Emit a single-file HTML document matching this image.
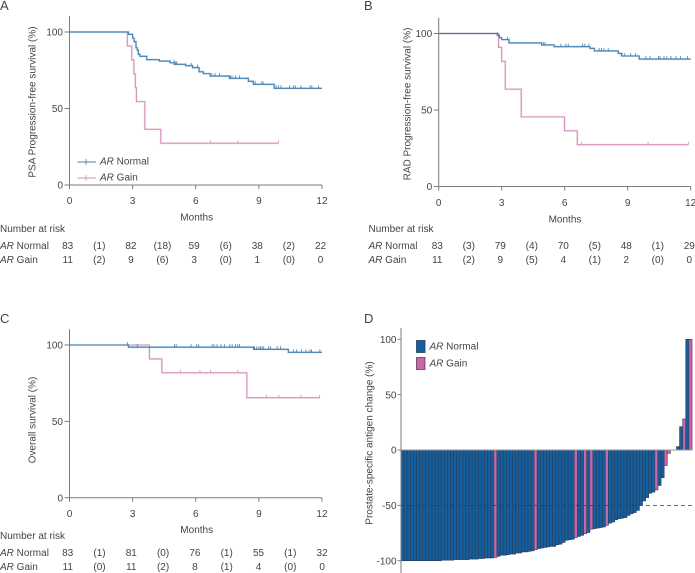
<!DOCTYPE html>
<html lang="en">
<head>
<meta charset="utf-8">
<title>AR status survival charts</title>
<style>
html,body{margin:0;padding:0;background:#fff;}
body{width:695px;height:573px;overflow:hidden;}
svg{display:block;font-family:"Liberation Sans",sans-serif;fill:#444;}
text{font-size:10px;}
</style>
</head>
<body>
<svg id="figure" width="695" height="573" viewBox="0 0 695 573" xmlns="http://www.w3.org/2000/svg">
  <text x="0" y="10" style="font-size:13px">A</text>
  <text x="364" y="10" style="font-size:13px">B</text>
  <text x="0" y="323" style="font-size:13px">C</text>
  <text x="364" y="323" style="font-size:13px">D</text>

  <text transform="translate(35.5,102) rotate(-90)" text-anchor="middle">PSA Progression-free survival (%)</text>
  <text transform="translate(410.5,104) rotate(-90)" text-anchor="middle">RAD Progression-free survival (%)</text>
  <text transform="translate(35.5,420) rotate(-90)" text-anchor="middle">Overall survival (%)</text>
  <text transform="translate(372.5,443) rotate(-90)" text-anchor="middle">Prostate-specific antigen change (%)</text>

  <text x="196.7" y="220.5" text-anchor="middle">Months</text>
  <text x="565" y="222.5" text-anchor="middle">Months</text>
  <text x="196.7" y="533" text-anchor="middle">Months</text>

  <text x="0" y="232">Number at risk</text>
  <text x="368.5" y="232">Number at risk</text>
  <text x="0" y="539">Number at risk</text>

  <text x="0" y="249"><tspan font-style="italic">AR</tspan> Normal</text>
  <text x="0" y="263"><tspan font-style="italic">AR</tspan> Gain</text>
  <text x="368.5" y="249"><tspan font-style="italic">AR</tspan> Normal</text>
  <text x="368.5" y="263"><tspan font-style="italic">AR</tspan> Gain</text>
  <text x="0" y="556"><tspan font-style="italic">AR</tspan> Normal</text>
  <text x="0" y="570"><tspan font-style="italic">AR</tspan> Gain</text>

  <g id="plots"></g>

  <g>
    <line x1="77.5" y1="162" x2="96" y2="162" stroke="#3f7fb2" stroke-width="1.1"/>
    <line x1="86" y1="159" x2="86" y2="165" stroke="#3f7fb2" stroke-width="0.8"/>
    <text x="100" y="164.5"><tspan font-style="italic">AR</tspan> Normal</text>
    <line x1="77.5" y1="178" x2="96" y2="178" stroke="#d792bd" stroke-width="1.1"/>
    <line x1="86" y1="175" x2="86" y2="181" stroke="#d792bd" stroke-width="0.8"/>
    <text x="100" y="180.5"><tspan font-style="italic">AR</tspan> Gain</text>
  </g>

  <g>
    <rect x="416.5" y="340.5" width="8.5" height="12" fill="#155f9e" stroke="#27405f" stroke-width="0.8"/>
    <text x="429.5" y="349.5"><tspan font-style="italic">AR</tspan> Normal</text>
    <rect x="416.5" y="357.5" width="8.5" height="12" fill="#c768a8" stroke="#5a3a60" stroke-width="0.8"/>
    <text x="429.5" y="366.5"><tspan font-style="italic">AR</tspan> Gain</text>
  </g>
</svg>

<script>
// ---- Shared tick labels ----
const monthTicks = [0, 3, 6, 9, 12];
const survivalTicks = [0, 50, 100];
const changeTicks = [-100, -50, 0, 50, 100];

// ---- Panel A: PSA progression-free survival ----
const aNormalTimes = [0, 2.8, 3.0, 3.07, 3.16, 3.22, 3.27, 3.35, 3.67, 4.27, 4.78, 4.98, 5.52, 5.85, 6.16, 6.36, 6.68, 7.6, 8.5, 8.74, 9.73, 11.4, 12];
const aNormalSurvival = [100, 98.5, 96, 93.7, 89.7, 88.2, 85.4, 84.1, 81.9, 81, 79.9, 78.9, 78, 76.7, 74, 72.8, 71.2, 69.7, 67.8, 65.8, 63.2, 63.2, 63.2];
const aNormalCensored = [4.97, 5.05, 5.1, 5.78, 6.08, 6.16, 6.77, 6.92, 7.13, 7.64, 7.72, 7.88, 8.08, 8.75, 8.83, 9.14, 9.2, 9.82, 9.93, 10.05, 10.46, 10.65, 10.73, 11, 11.44, 11.52, 11.84];
const aGainTimes = [0, 2.75, 2.96, 3.06, 3.13, 3.18, 3.58, 4.34, 9.94];
const aGainSurvival = [100, 90.9, 81.8, 72.7, 63.6, 54.5, 36.4, 27.3, 27.3];
const aGainCensored = [6.7, 8, 9.94];
const aRiskNormal = ["83", "(1)", "82", "(18)", "59", "(6)", "38", "(2)", "22"];
const aRiskGain = ["11", "(2)", "9", "(6)", "3", "(0)", "1", "(0)", "0"];

// ---- Panel B: radiographic progression-free survival ----
const bNormalTimes = [0, 2.79, 2.89, 3.0, 3.35, 4.9, 5.5, 7.2, 7.41, 8.55, 8.71, 9.55, 12];
const bNormalSurvival = [100, 98.8, 97.3, 96, 93.8, 92.5, 91.4, 90.3, 88.6, 87, 85.3, 83.3, 83.3];
const bNormalCensored = [2.79, 3.27, 4.98, 5.06, 5.82, 6.06, 6.17, 6.85, 6.96, 7.15, 7.64, 7.75, 7.87, 8.07, 8.73, 8.86, 9.14, 9.38, 9.87, 10.06, 10.46, 10.54, 10.73, 10.86, 11.06, 11.3, 11.52, 11.84];
const bGainTimes = [0, 2.85, 3.0, 3.17, 3.93, 5.99, 6.6, 11.89];
const bGainSurvival = [100, 90.9, 81.8, 63.6, 45.5, 36.4, 27.3, 27.3];
const bGainCensored = [6.8, 9.97, 11.89];
const bRiskNormal = ["83", "(3)", "79", "(4)", "70", "(5)", "48", "(1)", "29"];
const bRiskGain = ["11", "(2)", "9", "(5)", "4", "(1)", "2", "(0)", "0"];

// ---- Panel C: overall survival ----
const cNormalTimes = [0, 2.8, 8.75, 10.4, 12];
const cNormalSurvival = [100, 98.6, 97.2, 95.2, 95.2];
const cNormalCensored = [2.75, 3.22, 4.99, 5.07, 5.78, 6.05, 6.14, 6.78, 6.87, 7.01, 7.2, 7.36, 7.62, 7.73, 7.89, 8.0, 8.08, 8.8, 8.9, 9.0, 9.08, 9.15, 9.23, 9.47, 9.55, 9.87, 10.03, 10.64, 10.8, 11.03, 11.24, 11.43, 11.5, 11.9];
const cGainTimes = [2.75, 3.8, 4.39, 8.43, 11.89];
const cGainSurvival = [100, 90.9, 81.8, 65.5, 65.5];
const cGainCensored = [5.27, 6.2, 6.7, 8, 9.37, 9.95, 11, 11.89];
const cRiskNormal = ["83", "(1)", "81", "(0)", "76", "(1)", "55", "(1)", "32"];
const cRiskGain = ["11", "(0)", "11", "(2)", "8", "(1)", "4", "(0)", "0"];

// ---- Panel D: waterfall of PSA change ----
const psaChange = [-100,-100,-100,-100,-100,-100,-100,-100,-100,-100,-100,-100,-100,-99.5,-99.5,-99.5,-99.5,-99,-99,-99,-99,-99,-98.5,-98.5,-98.5,-98,-98,-97.5,-97.5,-97.5,-97,-96,-95,-95,-94.5,-94,-94,-93,-93,-92,-92,-91.5,-91,-90,-89,-88.5,-88,-87.5,-87,-87,-85.5,-85,-83.5,-81.5,-81,-80.5,-79,-78,-77,-75.5,-74.5,-71.5,-71,-70.5,-70,-69.5,-68,-66,-65,-63,-62,-61.5,-61,-59,-57.5,-56.5,-54.5,-50,-46,-43,-39,-38,-36,-32,-25,-14,-3,0,0,3,21,28,100,100];
const gainPatients = [30, 43, 56, 59, 61, 66, 82, 85, 86, 91, 93];
const responseThreshold = -50;

const NS = 'http://www.w3.org/2000/svg';
const plots = document.getElementById('plots');
const BLUE = '#3f7fb2', PINK = '#d792bd', AXIS = '#7b7b7b';

function make(tag, attrs, parent) {
  const el = document.createElementNS(NS, tag);
  for (const k in attrs) el.setAttribute(k, attrs[k]);
  (parent || plots).appendChild(el);
  return el;
}

function stepValue(times, survival, t) {
  let v = survival[0];
  for (let i = 0; i < times.length; i++) if (times[i] <= t) v = survival[i];
  return v;
}

function drawCurve(group, name, color, times, survival, censored, x, y) {
  let d = 'M' + x(times[0]) + ' ' + y(survival[0]);
  for (let i = 1; i < times.length; i++) {
    d += 'H' + x(times[i]) + 'V' + y(survival[i]);
  }
  const halo = make('path', {d: d, fill: 'none', stroke: color, 'stroke-width': 2.2, 'stroke-opacity': 0.22}, group);
  
  
  const path = make('path', {d: d, fill: 'none', stroke: color, 'stroke-width': 1.1}, group);
  
  
  censored.forEach(function (t) {
    const v = stepValue(times, survival, t);
    const mark = make('line', {x1: x(t), x2: x(t), y1: y(v) - 3, y2: y(v), stroke: color, 'stroke-width': 0.8}, group);
    
    
  });
}

function drawKmAxes(group, prefix, x, y, axisTop, labelY) {
  const yAxis = make('line', {x1: x(0), x2: x(0), y1: axisTop, y2: y(0) + 0.5, stroke: AXIS, 'stroke-width': 1}, group);
  
  
  const xAxis = make('line', {x1: x(0), x2: x(12), y1: y(0), y2: y(0), stroke: AXIS, 'stroke-width': 1}, group);
  
  
  monthTicks.forEach(function (m) {
    const tick = make('line', {x1: x(m), x2: x(m), y1: y(0), y2: y(0) + 4, stroke: AXIS, 'stroke-width': 1}, group);
    
    
    const label = make('text', {x: x(m), y: labelY, 'text-anchor': 'middle'}, group);
    label.textContent = m;
    
    
  });
  survivalTicks.forEach(function (s) {
    const tick = make('line', {x1: x(0) - 5, x2: x(0), y1: y(s), y2: y(s), stroke: AXIS, 'stroke-width': 1}, group);
    
    
    const label = make('text', {x: x(0) - 6.5, y: y(s) + 3.6, 'text-anchor': 'end'}, group);
    label.textContent = s;
    
    
  });
}

function drawRiskRow(group, name, values, firstX, stepX, baseline) {
  values.forEach(function (v, i) {
    const cell = make('text', {x: firstX + i * stepX, y: baseline, 'text-anchor': 'middle'}, group);
    cell.textContent = v;
    
    
  });
}

// Panel A
(function () {
  const x = function (m) { return 69.5 + m * 21.04; };
  const y = function (s) { return 185 - s * 1.53; };
  const g = make('g', {});
  
  
  drawCurve(g, 'panel-a-gain', PINK, aGainTimes, aGainSurvival, aGainCensored, x, y);
  drawCurve(g, 'panel-a-normal', BLUE, aNormalTimes, aNormalSurvival, aNormalCensored, x, y);
  drawKmAxes(g, 'panel-a', x, y, 16, 204);
  drawRiskRow(g, 'panel-a-risk-normal', aRiskNormal, 67.7, 31.6, 249);
  drawRiskRow(g, 'panel-a-risk-gain', aRiskGain, 67.7, 31.6, 263);
})();

// Panel B
(function () {
  const x = function (m) { return 438.7 + m * 21; };
  const y = function (s) { return 186.5 - s * 1.53; };
  const g = make('g', {});
  
  
  drawCurve(g, 'panel-b-gain', PINK, bGainTimes, bGainSurvival, bGainCensored, x, y);
  drawCurve(g, 'panel-b-normal', BLUE, bNormalTimes, bNormalSurvival, bNormalCensored, x, y);
  drawKmAxes(g, 'panel-b', x, y, 17.7, 206);
  drawRiskRow(g, 'panel-b-risk-normal', bRiskNormal, 437.3, 31.5, 249);
  drawRiskRow(g, 'panel-b-risk-gain', bRiskGain, 437.3, 31.5, 263);
})();

// Panel C
(function () {
  const x = function (m) { return 69.5 + m * 21.04; };
  const y = function (s) { return 497.7 - s * 1.527; };
  const g = make('g', {});
  
  
  drawCurve(g, 'panel-c-gain', PINK, cGainTimes, cGainSurvival, cGainCensored, x, y);
  drawCurve(g, 'panel-c-normal', BLUE, cNormalTimes, cNormalSurvival, cNormalCensored, x, y);
  drawKmAxes(g, 'panel-c', x, y, 329.3, 517);
  drawRiskRow(g, 'panel-c-risk-normal', cRiskNormal, 67.7, 31.8, 556);
  drawRiskRow(g, 'panel-c-risk-gain', cRiskGain, 67.7, 31.8, 570);
})();

// Panel D
(function () {
  const left = 401, right = 692;
  const band = (right - left) / psaChange.length;
  const x = function (i) { return left + i * band; };
  const y = function (v) { return 450 - v * 1.107; };
  const g = make('g', {});
  
  
  psaChange.forEach(function (v, i) {
    if (v === 0) return;
    const isGain = gainPatients.indexOf(i) >= 0;
    const top = Math.min(y(v), y(0));
    const bar = make('rect', {
      x: x(i), y: top, width: band, height: Math.abs(y(v) - y(0)),
      fill: isGain ? '#c768a8' : '#155f9e',
      stroke: isGain ? '#5a3a60' : '#27405f',
      'stroke-width': 0.7
    }, g);
    
    
  });
  const baseline = make('line', {x1: left, x2: right, y1: y(0), y2: y(0), stroke: '#9a9a9a', 'stroke-width': 1}, g);
  
  
  const threshold = make('line', {x1: left, x2: 695, y1: y(responseThreshold), y2: y(responseThreshold), stroke: '#2f3a48', 'stroke-width': 0.8, 'stroke-dasharray': '4 3'}, g);
  
  
  const axis = make('line', {x1: left, x2: left, y1: 328, y2: 573, stroke: AXIS, 'stroke-width': 1}, g);
  
  
  changeTicks.forEach(function (v) {
    const tick = make('line', {x1: left - 3.5, x2: left, y1: y(v), y2: y(v), stroke: AXIS, 'stroke-width': 1}, g);
    
    
    const label = make('text', {x: left - 4.5, y: y(v) + 3.6, 'text-anchor': 'end'}, g);
    label.textContent = v;
    
    
  });
})();
</script>
</body>
</html>
